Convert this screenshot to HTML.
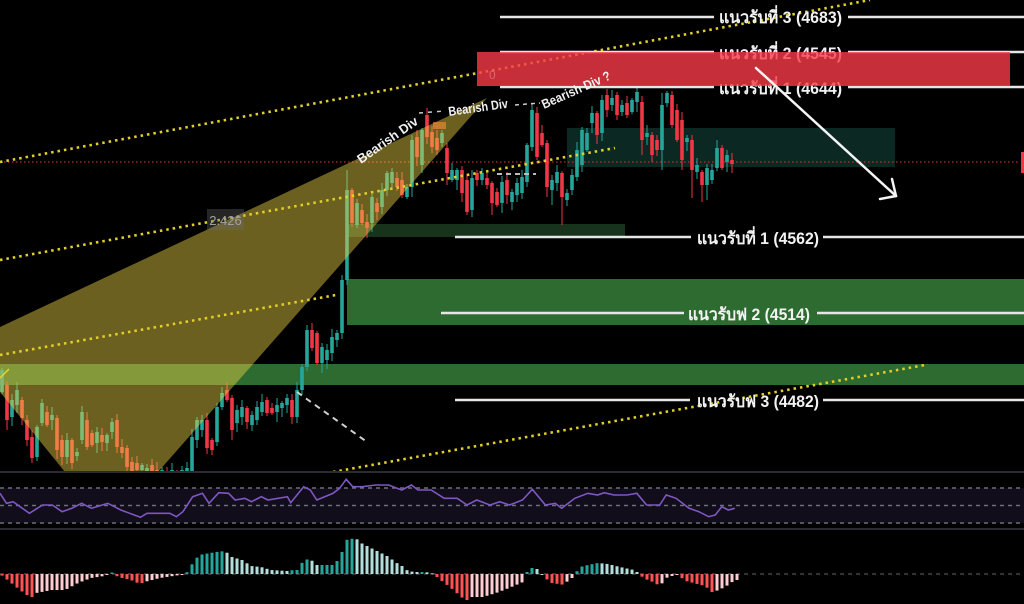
<!DOCTYPE html>
<html><head><meta charset="utf-8">
<style>
html,body{margin:0;padding:0;background:#000;width:1024px;height:604px;overflow:hidden}
svg{display:block}
.lbl{font-family:"Liberation Sans Narrow","Liberation Sans",sans-serif;font-size:17px;fill:#f2f2f2;font-weight:bold}
.bd{font-family:"Liberation Sans",sans-serif;font-size:13px;font-weight:bold;fill:#f0f0f0}
</style></head><body>
<svg id="s" width="1024" height="604" viewBox="0 0 1024 604" xmlns="http://www.w3.org/2000/svg">
<rect width="1024" height="604" fill="#000"/>
<rect x="348" y="224" width="277" height="13" fill="#17331b"/>
<rect x="567" y="128" width="328" height="39" fill="#0b2822"/>
<rect x="347" y="279" width="677" height="46" fill="#2e6b31"/>
<rect x="0" y="364" width="1024" height="21" fill="#2e6b31"/>
<line x1="0" y1="162" x2="1020" y2="162" stroke="#c62828" stroke-width="1.2" stroke-dasharray="1.5 2.5"/>
<rect x="1021" y="152" width="4" height="21" fill="#f23645"/>
<g id="candles"></g>
<polygon points="0,327 487,98 158,472 65,472 0,392" fill="rgba(238,213,71,0.45)"/>
<rect x="433" y="122" width="13" height="7" fill="rgba(240,140,50,0.65)"/>
<line x1="0" y1="378" x2="9" y2="369" stroke="#e5d62b" stroke-width="1.5"/>
<!-- dotted yellow lines -->
<g stroke="#e0cf2a" stroke-width="2.6" stroke-dasharray="2.5 4" fill="none">
<line x1="0" y1="162" x2="870" y2="0"/>
<line x1="0" y1="260" x2="615" y2="148"/>
<line x1="0" y1="355" x2="336" y2="295"/>
<line x1="333" y1="472" x2="925" y2="365"/>
</g>
<!-- 2.426 -->
<rect x="207" y="209" width="37" height="21" fill="rgba(110,110,110,0.35)"/>
<text x="225.5" y="225" text-anchor="middle" font-family="Liberation Sans, sans-serif" font-size="13" fill="#a0a0a0">2.426</text>
<!-- dashed lines -->
<line x1="297" y1="392" x2="367" y2="442" stroke="#cfcfcf" stroke-width="2" stroke-dasharray="6 5"/>
<line x1="497" y1="174" x2="536" y2="174" stroke="#bbbbbb" stroke-width="2" stroke-dasharray="5 4"/>
<line x1="419" y1="113" x2="445" y2="111" stroke="#cccccc" stroke-width="1.5" stroke-dasharray="4 5"/>
<line x1="515" y1="105" x2="540" y2="103" stroke="#cccccc" stroke-width="1.5" stroke-dasharray="4 4"/>
<!-- support lines & labels -->
<g stroke="#e6e6e6" stroke-width="2.6">
<line x1="500" y1="17" x2="714" y2="17"/><line x1="848" y1="17" x2="1024" y2="17"/>
<line x1="500" y1="52" x2="714" y2="52"/><line x1="848" y1="52" x2="1024" y2="52"/>
<line x1="500" y1="87" x2="714" y2="87"/><line x1="848" y1="87" x2="1024" y2="87"/>
<line x1="455" y1="237" x2="691" y2="237"/><line x1="823" y1="237" x2="1024" y2="237"/>
<line x1="441" y1="313" x2="684" y2="313"/><line x1="817" y1="313" x2="1024" y2="313"/>
<line x1="455" y1="400" x2="690" y2="400"/><line x1="823" y1="400" x2="1024" y2="400"/>
</g>
<text class="lbl" x="719" y="23" textLength="123" lengthAdjust="spacingAndGlyphs">แนวรับที่ 3 (4683)</text>
<text class="lbl" x="719" y="59" textLength="123" lengthAdjust="spacingAndGlyphs">แนวรับที่ 2 (4545)</text>
<text class="lbl" x="719" y="94" textLength="123" lengthAdjust="spacingAndGlyphs">แนวรับที่ 1 (4644)</text>
<text class="lbl" x="697" y="244" textLength="122" lengthAdjust="spacingAndGlyphs">แนวรับที่ 1 (4562)</text>
<text class="lbl" x="688" y="320" textLength="122" lengthAdjust="spacingAndGlyphs">แนวรับฟ 2 (4514)</text>
<text class="lbl" x="697" y="407" textLength="122" lengthAdjust="spacingAndGlyphs">แนวรับฟ 3 (4482)</text>
<!-- red box -->
<rect x="477" y="52" width="533" height="34" fill="rgba(248,58,72,0.8)"/>
<text x="489" y="79" font-family="Liberation Sans, sans-serif" font-size="12" fill="rgba(255,170,170,0.45)">0</text>
<!-- arrow -->
<g stroke="#f4f4f4" stroke-width="2.5" fill="none" stroke-linecap="round">
<line x1="756" y1="68" x2="896" y2="196"/>
<line x1="896" y1="196" x2="880" y2="199"/>
<line x1="896" y1="196" x2="892" y2="179"/>
</g>
<!-- bearish div texts -->
<text class="bd" transform="translate(361,164) rotate(-35)" textLength="71" lengthAdjust="spacingAndGlyphs">Bearish Div</text>
<text class="bd" transform="translate(449,116) rotate(-8)" textLength="60" lengthAdjust="spacingAndGlyphs">Bearish Div</text>
<text class="bd" transform="translate(544,109) rotate(-24)" textLength="74" lengthAdjust="spacingAndGlyphs">Bearish Div ?</text>
<!-- lower panels -->
<rect x="0" y="473" width="1024" height="131" fill="#000"/>
<rect x="0" y="471" width="1024" height="2" fill="#2a2a32"/>
<rect x="0" y="488" width="1024" height="35" fill="#110d1a"/>
<g stroke="#6d6f78" stroke-width="1.5" stroke-dasharray="4 4">
<line x1="0" y1="488" x2="1024" y2="488"/>
<line x1="0" y1="505.5" x2="1024" y2="505.5"/>
<line x1="0" y1="523" x2="1024" y2="523"/>
</g>
<polyline id="rsi" fill="none" stroke="#7e57c2" stroke-width="1.6" points=""/>
<rect x="0" y="528" width="1024" height="2" fill="#2a2a32"/>
<line x1="0" y1="574" x2="1024" y2="574" stroke="#444" stroke-width="1.5" stroke-dasharray="4 4"/>
<g id="macd"></g>
</svg>
<script>
(function(){
var NS="http://www.w3.org/2000/svg";
var data="u370,392 d385,420 u400,417 u390,405 d400,418 d420,440 d437,458 u427,457 u403,423 d412,425 u415,420 d418,450 d440,457 u440,457 d440,463 u452,456 u412,440 d420,447 d433,445 u432,443 d435,442 u435,443 u422,432 d420,447 d447,453 d448,467 d462,472 d463,470 u465,470 u468,472 d465,473 d470,478 u470,480 d472,480 u470,480 d472,480 u470,478 u468,472 u437,472 u420,440 u420,430 d420,448 d440,450 u407,442 u393,407 d390,400 d398,430 u410,423 u407,417 d408,422 u415,425 u407,420 u402,412 d400,413 d408,413 u405,412 u403,408 u398,405 d400,417 u390,417 u367,390 u330,367 d330,348 d333,363 u347,363 u350,360 u337,353 u333,340 u280,333 u190,280 d190,223 u203,225 d210,223 d222,228 u197,223 d203,212 u190,207 u173,190 u172,183 d178,187 d180,195 u187,197 u140,187 d137,157 u130,165 d115,137 d132,147 d138,150 u133,143 d148,173 u170,180 u170,180 d170,193 d180,212 u178,210 d173,180 u173,180 d178,185 d183,203 d192,205 u182,203 d180,195 u192,202 u183,195 u177,193 u145,182 u110,147 d113,157 d133,145 d143,187 u180,190 u172,183 d173,197 u193,200 u175,190 u150,177 u130,165 u133,150 u113,123 d113,135 u100,133 d95,110 u98,105 d95,115 u105,112 d103,115 u100,112 u92,102 d102,140 u133,137 d135,155 d140,150 u105,150 u93,103 d95,125 d110,140 d120,160 u138,142 d140,170 u165,172 d172,185 u168,185 u170,180 u148,168 d148,168 u155,162 d160,164".split(" ");
var ov={98:[0,215],112:[0,225],132:[93,170],138:[0,198],140:[0,202],141:[0,200],106:[104,0],128:[0,155],69:[170,0],93:[0,215],89:[0,185],85:[108,0],120:[95,0],110:[0,205],116:[0,172]};
var g=document.getElementById("candles");
for(var i=0;i<data.length;i++){
 var d=data[i],up=d[0]=="u",p=d.slice(1).split(","),t=+p[0],b=+p[1];
 var x=2+i*5,col=up?"#26a69a":"#f23645";
 var hi=t-(2+(i*37)%7),lo=b+(2+(i*53)%9);
 if(ov[i]){if(ov[i][0])hi=ov[i][0];if(ov[i][1])lo=ov[i][1];}
 var w=document.createElementNS(NS,"rect");
 w.setAttribute("x",x-0.5);w.setAttribute("y",hi);w.setAttribute("width",1);w.setAttribute("height",lo-hi);w.setAttribute("fill",col);g.appendChild(w);
 var r=document.createElementNS(NS,"rect");
 r.setAttribute("x",x-1.8);r.setAttribute("y",t);r.setAttribute("width",3.6);r.setAttribute("height",Math.max(1.5,b-t));r.setAttribute("fill",col);g.appendChild(r);
}
function interp(a,x){if(x<=a[0][0])return a[0][1];for(var k=1;k<a.length;k++){if(x<=a[k][0]){var f=(x-a[k-1][0])/(a[k][0]-a[k-1][0]);return a[k-1][1]+f*(a[k][1]-a[k-1][1]);}}return a[a.length-1][1];}
var rz=[[0,100],[10,130],[20,125],[45,160],[65,135],[80,135],[95,155],[110,145],[125,130],[140,145],[165,130],[185,150],[215,172],[225,160],[260,160],[270,170],[280,155],[295,110],[310,100],[320,130],[335,98],[350,100],[360,120],[375,115],[385,125],[400,110],[410,120],[440,110],[445,128],[465,80],[475,90],[485,120],[510,100],[520,85],[530,58],[540,80],[555,80],[575,75],[595,75],[615,90],[630,75],[640,90],[660,90],[680,115],[700,115],[715,135],[730,120],[750,135],[765,125],[780,135],[800,120],[815,88],[835,135],[850,130],[860,145],[880,115],[900,100],[915,105],[925,98],[940,105],[960,105],[975,100],[990,135],[1010,135],[1020,105],[1035,115],[1055,145],[1070,155],[1085,170],[1095,165],[1105,140],[1115,150],[1125,145]];
var pts=[];for(var j=0;j<rz.length;j++){pts.push((rz[j][0]/1.531).toFixed(1)+","+(rz[j][1]/3+460).toFixed(1));}
document.getElementById("rsi").setAttribute("points",pts.join(" "));
var ma=[[0,574],[5,578],[20,590],[31,598],[36,593],[52,590],[65,590],[78,583],[91,578],[104,576],[108,574],[110,571],[114,574],[118,577],[131,580],[140,584],[144,582],[160,578],[186,574],[190,567],[199,555],[216,552],[225,551],[232,557],[242,560],[251,566],[261,567],[271,570],[287,571],[294,570],[297,570],[304,560],[310,559],[317,565],[333,565],[340,558],[346,540],[356,538],[359,542],[369,547],[379,552],[389,557],[395,562],[402,566],[408,571],[415,572],[425,572],[431,573],[434,574],[438,578],[451,588],[466,601],[470,597],[483,597],[496,593],[509,588],[523,582],[526,574],[529,568],[536,568],[542,574],[545,578],[552,583],[565,585],[568,580],[572,578],[575,574],[580,567],[588,565],[598,563],[608,564],[620,567],[634,570],[640,574],[643,578],[653,582],[660,586],[666,578],[672,576],[676,574],[686,581],[705,586],[712,592],[716,591],[725,587],[735,580]];
var mg=document.getElementById("macd"),pv=0;
for(var i2=0;i2<=147;i2++){
 var x2=2+i2*5,y=interp(ma,x2),v=574-y,dv=v-pv;pv=v;
 var c;if(v>=0)c=dv>=0?"#26a69a":"#b2dfdb";else c=dv<0?"#ff5252":"#ffcdd2";
 var top=Math.min(y,574),h=Math.max(1,Math.abs(574-y));
 var r2=document.createElementNS(NS,"rect");
 r2.setAttribute("x",x2-1.5);r2.setAttribute("y",top);r2.setAttribute("width",3);r2.setAttribute("height",h);r2.setAttribute("fill",c);mg.appendChild(r2);
}
})();
</script>
</body></html>
